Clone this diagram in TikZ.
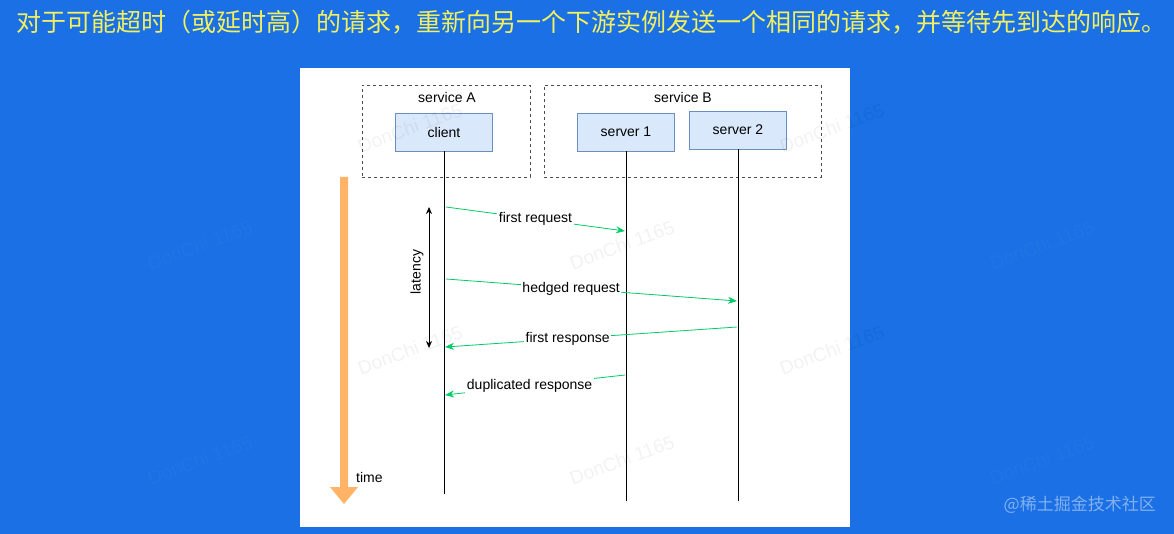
\documentclass[tikz,border=0pt]{standalone}
\usepackage{fontspec}
\setmainfont{Liberation Sans}
\newfontfamily\cjk{Noto Sans CJK SC}
\usetikzlibrary{arrows.meta}
\definecolor{bgblue}{RGB}{26,112,228}
\definecolor{titleyel}{RGB}{240,240,96}
\definecolor{boxfill}{RGB}{218,232,252}
\definecolor{boxline}{RGB}{108,142,191}
\definecolor{msggreen}{RGB}{0,204,102}
\definecolor{timeorange}{RGB}{255,179,102}
\tikzset{
  svcbox/.style={draw=black!70, dashed, line width=0.7pt, rectangle, inner sep=0pt},
  actor/.style={draw=boxline, fill=boxfill, line width=0.8pt, rectangle, minimum width=97pt, minimum height=38pt, inner sep=0pt, font=\fontsize{14}{16}\selectfont},
  lifeline/.style={draw=black, line width=1pt},
  msg/.style={draw=msggreen, line width=0.8pt, -{Stealth[length=9pt,width=7pt]}},
  lbl/.style={fill=white, inner sep=1.5pt, font=\fontsize{14}{16}\selectfont, text=black},
  plain/.style={inner sep=0pt, font=\fontsize{14}{16}\selectfont},
  wmark/.style={text=black, opacity=0.05, rotate=20, font=\fontsize{19}{22}\selectfont},
  wmarkb/.style={text=white, opacity=0.03, rotate=20, font=\fontsize{19}{22}\selectfont}
}
\begin{document}
\begin{tikzpicture}[x=1pt,y=-1pt]
\useasboundingbox (0,0) rectangle (1174,534);
\fill[bgblue] (0,0) rectangle (1174,534);
% title
\node[anchor=west, inner sep=0pt, text=titleyel, font=\cjk\fontsize{25}{30}\selectfont] (title) at (16,22) {对于可能超时（或延时高）的请求，重新向另一个下游实例发送一个相同的请求，并等待先到达的响应。};
% watermarks on the blue
\node[wmarkb] (b1) at (200,245) {DonChi 1165};
\node[wmarkb] (b2) at (200,460) {DonChi 1165};
\node[wmarkb] (b3) at (1042,245) {DonChi 1165};
\node[wmarkb] (b4) at (1042,460) {DonChi 1165};
% panel
\fill[white] (300,68) rectangle (850,527);
% service groups
\node[svcbox, minimum width=168pt, minimum height=92pt] (sa) at (446,131) {};
\node[svcbox, minimum width=277pt, minimum height=92pt] (sb) at (682.5,131) {};
\node[plain] (salbl) at (447,97) {service A};
\node[plain] (sblbl) at (683,97) {service B};
% actors
\node[actor] (client) at (444,132) {client};
\node[actor] (srv1) at (626,132) {server 1};
\node[actor] (srv2) at (738,130) {server 2};
% lifeline ends
\coordinate (cend) at (444,494);
\coordinate (s1end) at (626,501);
\coordinate (s2end) at (738,501);
\draw[lifeline] (client.south) -- (cend);
\draw[lifeline] (srv1.south) -- (s1end);
\draw[lifeline] (srv2.south) -- (s2end);
% time arrow
\fill[timeorange] (340,177) -- (348,177) -- (348,487) -- (358,487) -- (344,504) -- (330,487) -- (340,487) -- cycle;
\node[plain, anchor=west] (time) at (356,477) {time};
% latency
\coordinate (lat1) at (429,207);
\coordinate (lat2) at (429,348);
\draw[black, line width=0.8pt, {Stealth[length=7pt,width=6pt]}-{Stealth[length=7pt,width=6pt]}] (lat1) -- (lat2);
\node[plain, rotate=90] (latency) at (417,272) {latency};
% messages
\coordinate (m1a) at (446,207);
\coordinate (m1b) at (625,231);
\coordinate (m2a) at (446,279);
\coordinate (m2b) at (737,301);
\coordinate (m3a) at (737,327);
\coordinate (m3b) at (445,347);
\coordinate (m4a) at (625,375);
\coordinate (m4b) at (445,395);
\draw[msg] (m1a) -- node[lbl, pos=0.5] (l1) {first request} (m1b);
\draw[msg] (m2a) -- node[lbl, pos=0.43] (l2) {hedged request} (m2b);
\draw[msg] (m3a) -- node[lbl, pos=0.58] (l3) {first response} (m3b);
\draw[msg] (m4a) -- node[lbl, pos=0.53] (l4) {duplicated response} (m4b);
% watermarks on the panel
\node[wmark] (w1) at (410,128) {DonChi 1165};
\node[wmark] (w2) at (622,245) {DonChi 1165};
\node[wmark] (w3) at (410,350) {DonChi 1165};
\node[wmark] (w4) at (622,460) {DonChi 1165};
\node[wmark] (w5) at (832,128) {DonChi 1165};
\node[wmark] (w6) at (832,350) {DonChi 1165};
% footer
\node[anchor=east, inner sep=0pt, text=white, opacity=0.45, font=\cjk\fontsize{17}{20}\selectfont] (footer) at (1156,505) {@稀土掘金技术社区};
\end{tikzpicture}
\end{document}
